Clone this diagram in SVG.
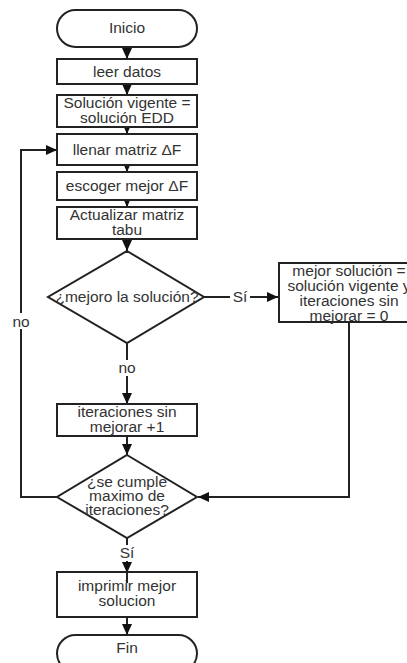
<svg xmlns="http://www.w3.org/2000/svg" width="407" height="663" viewBox="0 0 407 663">
<defs>
<style>
.n{fill:#fff;stroke:#222;stroke-width:2}
.c{fill:none;stroke:#222;stroke-width:2}
text{font-family:"Liberation Sans",Arial,sans-serif;font-size:15.5px;fill:#333;text-anchor:middle}
.lbl{fill:#fff;stroke:none}
</style>
<marker id="ah" markerWidth="12" markerHeight="12" refX="11" refY="6" orient="auto" markerUnits="userSpaceOnUse">
<path d="M0,1 L11,6 L0,11 Z" fill="#111"/>
</marker>
</defs>
<rect width="407" height="663" fill="#fff"/>
<g id="connectors">
<path class="c" d="M127,47 V59" marker-end="url(#ah)"/>
<path class="c" d="M127,84 V95" marker-end="url(#ah)"/>
<path class="c" d="M127,127 V134" marker-end="url(#ah)"/>
<path class="c" d="M127,165 V172" marker-end="url(#ah)"/>
<path class="c" d="M127,200 V207" marker-end="url(#ah)"/>
<path class="c" d="M127,239 V251" marker-end="url(#ah)"/>
<path class="c" d="M204,297 H278" marker-end="url(#ah)"/>
<path class="c" d="M127,343 V404" marker-end="url(#ah)"/>
<path class="c" d="M349,322 V497 H198" marker-end="url(#ah)"/>
<path class="c" d="M127,436 V455" marker-end="url(#ah)"/>
<path class="c" d="M57,497 H21 V150 H57" marker-end="url(#ah)"/>
<path class="c" d="M127,538 V573" marker-end="url(#ah)"/>
<path class="c" d="M127,572 V583"/>
<path class="c" d="M127,617 V635" marker-end="url(#ah)"/>
<rect class="lbl" x="230" y="288" width="20" height="16"/>
<text x="240" y="302">Sí</text>
<rect class="lbl" x="10" y="313" width="22" height="16"/>
<text x="21" y="327">no</text>
<rect class="lbl" x="115" y="360" width="24" height="16"/>
<text x="127" y="373">no</text>
<rect class="lbl" x="118" y="545" width="18" height="16"/>
<text x="127" y="558">Sí</text>
</g>
<g id="inicio"><rect class="n" x="57" y="10" width="140" height="37" rx="18.5"/><text x="127" y="33">Inicio</text></g>
<g id="leer"><rect class="n" x="57" y="59" width="140" height="25"/><text x="127" y="77">leer datos</text></g>
<g id="vigente"><rect class="n" x="57" y="95" width="140" height="32"/><text x="127" y="108">Solución vigente =</text><text x="127" y="123">solución EDD</text></g>
<g id="llenar"><rect class="n" x="57" y="134" width="140" height="31"/><text x="127" y="155">llenar matriz ΔF</text></g>
<g id="escoger"><rect class="n" x="57" y="172" width="140" height="28"/><text x="127" y="191">escoger mejor ΔF</text></g>
<g id="actualizar"><rect class="n" x="57" y="207" width="140" height="32"/><text x="127" y="220">Actualizar matriz</text><text x="127" y="235">tabu</text></g>
<g id="mejoro"><polygon class="n" points="127,251 204,297 127,343 48,297"/><text x="127" y="302">¿mejoro la solución?</text></g>
<g id="mejor"><rect class="n" x="279" y="263" width="140" height="59"/><text x="349" y="276">mejor solución =</text><text x="349" y="291">solución vigente y</text><text x="349" y="306">iteraciones sin</text><text x="349" y="321">mejorar = 0</text></g>
<g id="iteraciones"><rect class="n" x="57" y="404" width="140" height="32"/><text x="127" y="417">iteraciones sin</text><text x="127" y="432">mejorar +1</text></g>
<g id="maximo"><polygon class="n" points="127,455 197,497 127,538 57,497"/><text x="127" y="487">¿se cumple</text><text x="127" y="501">maximo de</text><text x="127" y="515">iteraciones?</text></g>
<g id="imprimir"><rect class="n" x="57" y="572" width="140" height="45" fill-opacity="0"/><text x="127" y="591">imprimir mejor</text><text x="127" y="606">solucion</text></g>
<g id="fin"><rect class="n" x="57" y="635" width="140" height="37" rx="18.5"/><text x="127" y="653">Fin</text></g>
</svg>
